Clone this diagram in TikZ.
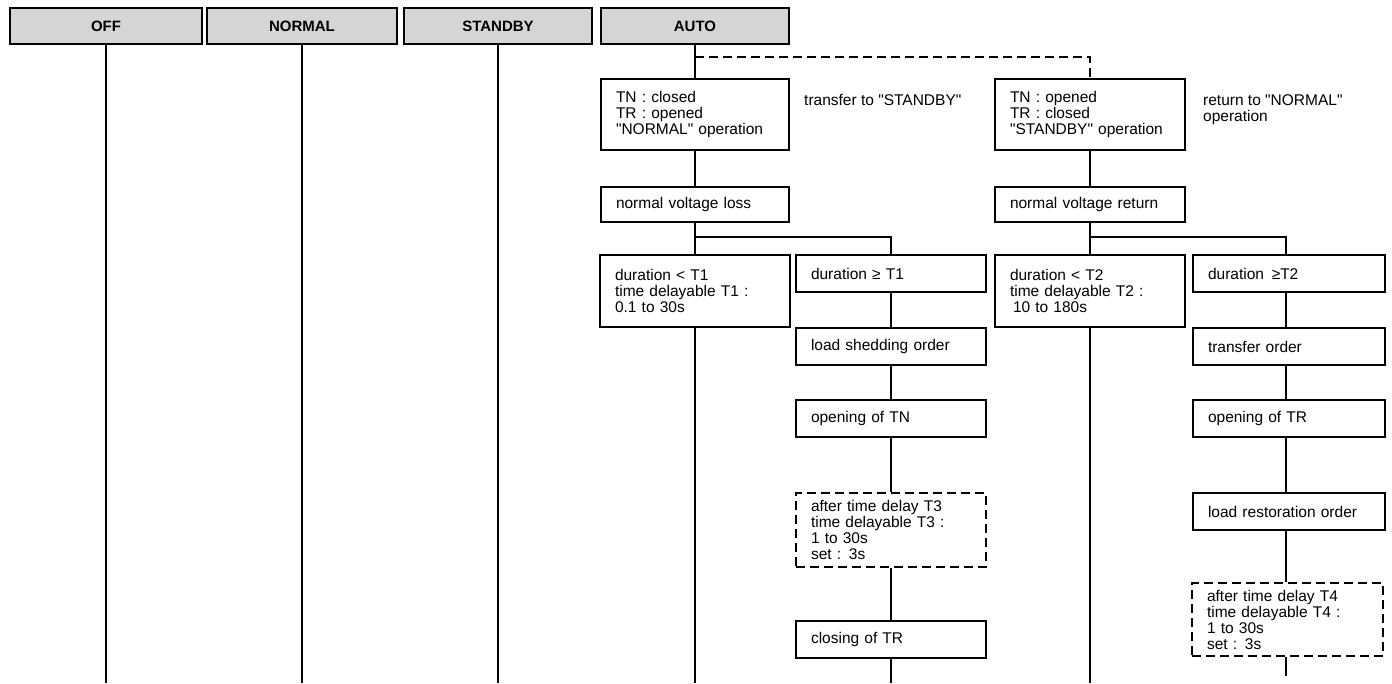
\documentclass[tikz,border=0pt]{standalone}
\usepackage{fontspec}
\setmainfont{Liberation Sans}[Ligatures=TeXOff]
\begin{document}
\begin{tikzpicture}[x=1pt,y=-1pt,
  every node/.style={inner sep=0pt},
  hdr/.style={draw, line width=1.3pt, fill=gray!33, minimum height=36pt,
    font=\fontsize{15}{18}\selectfont\bfseries},
  box/.style={draw, line width=1.2pt, inner xsep=15pt, inner ysep=0pt, align=left,
    font=\fontsize{15.5}{16}\selectfont},
  dbox/.style={box, dash pattern=on 9pt off 5pt},
  note/.style={align=left, anchor=north west, font=\fontsize{15.5}{16}\selectfont},
  conn/.style={line width=1.2pt},
  dconn/.style={line width=1.2pt, dash pattern=on 9pt off 5pt}]
\useasboundingbox (0,0) rectangle (1392,683);
% header
\node[hdr, minimum width=192pt] (hoff) at (106,26) {OFF};
\node[hdr, minimum width=190pt] (hnorm) at (302,26) {NORMAL};
\node[hdr, minimum width=188pt] (hstand) at (498,26) {STANDBY};
\node[hdr, minimum width=188pt] (hauto) at (695,26) {AUTO};
\coordinate (bot) at (0,683);
\draw[conn] (hoff.south) -- (hoff.south |- bot);
\draw[conn] (hnorm.south) -- (hnorm.south |- bot);
\draw[conn] (hstand.south) -- (hstand.south |- bot);
% left branch boxes
\node[box, text width=158pt, minimum height=71pt] (b1) at (695,114.5)
  {TN : closed\\TR : opened\\"NORMAL" operation};
\node[box, text width=158pt, minimum height=35pt] (b2) at (695,204.5) {normal voltage loss};
\node[box, text width=160pt, minimum height=72pt] (c1) at (695,291)
  {duration < T1\\time delayable T1 :\\0.1 to 30s};
\node[box, text width=160pt, minimum height=37pt] (c2) at (891,273.5) {duration ≥ T1};
\node[box, text width=160pt, minimum height=37pt] (c3) at (891,346.5) {load shedding order};
\node[box, text width=160pt, minimum height=37pt] (c4) at (891,418.5) {opening of TN};
\node[dbox, text width=160pt, minimum height=74pt] (c5) at (891,530)
  {after time delay T3\\time delayable T3 :\\1 to 30s\\set : 3s};
\node[box, text width=160pt, minimum height=37pt] (c6) at (891,639.5) {closing of TR};
% right branch boxes
\node[box, text width=160pt, minimum height=71pt] (b3) at (1090,114.5)
  {TN : opened\\TR : closed\\"STANDBY" operation};
\node[box, text width=160pt, minimum height=35pt] (b4) at (1090,204.5) {normal voltage return};
\node[box, text width=160pt, minimum height=72pt] (d1) at (1090,291)
  {duration < T2\\time delayable T2 :\\\hspace{3pt}10 to 180s};
\node[box, text width=162pt, minimum height=37pt] (d2) at (1289,273.5) {duration \,≥T2};
\node[box, text width=162pt, minimum height=37pt] (d3) at (1289,346.5) {transfer order};
\node[box, text width=162pt, minimum height=37pt] (d4) at (1289,418.5) {opening of TR};
\node[box, text width=162pt, minimum height=37pt] (d5) at (1289,511.5) {load restoration order};
\node[dbox, text width=161pt, minimum height=73pt] (d6) at (1287.5,619.5)
  {after time delay T4\\time delayable T4 :\\1 to 30s\\set : 3s};
% notes
\node[note] (n1) at (804,94) {transfer to "STANDBY"};
\node[note] (n2) at (1203,94) {return to "NORMAL"\\operation};
% connectors left
\coordinate (dj) at (695,57);
\draw[conn] (hauto.south) -- (b1.north);
\draw[dconn] (dj) -- (dj -| b3.north) -- (b3.north);
\draw[conn] (b1.south) -- (b2.north);
\draw[conn] (b2.south) -- (c1.north);
\coordinate (sL) at (695,237);
\coordinate (sR) at (891,237);
\draw[conn] (sL) -- (sR) -- (c2.north);
\draw[conn] (c1.south) -- (c1.south |- bot);
\draw[conn] (c2.south) -- (c3.north);
\draw[conn] (c3.south) -- (c4.north);
\draw[conn] (c4.south) -- (c5.north);
\draw[conn] (c5.south) -- (c6.north);
\draw[conn] (c6.south) -- (c6.south |- bot);
% connectors right
\draw[conn] (b3.south) -- (b4.north);
\draw[conn] (b4.south) -- (d1.north);
\draw[conn] (d1.south) -- (d1.south |- bot);
\coordinate (tL) at (1090,237);
\coordinate (tR) at (1286,237);
\coordinate (tEnd) at (1286,676);
\draw[conn] (tL) -- (tR) -- (tR |- d2.north);
\draw[conn] (d2.south -| tR) -- (d3.north -| tR);
\draw[conn] (d3.south -| tR) -- (d4.north -| tR);
\draw[conn] (d4.south -| tR) -- (d5.north -| tR);
\draw[conn] (d5.south -| tR) -- (d6.north -| tR);
\draw[conn] (d6.south -| tR) -- (tEnd);
\end{tikzpicture}
\end{document}
